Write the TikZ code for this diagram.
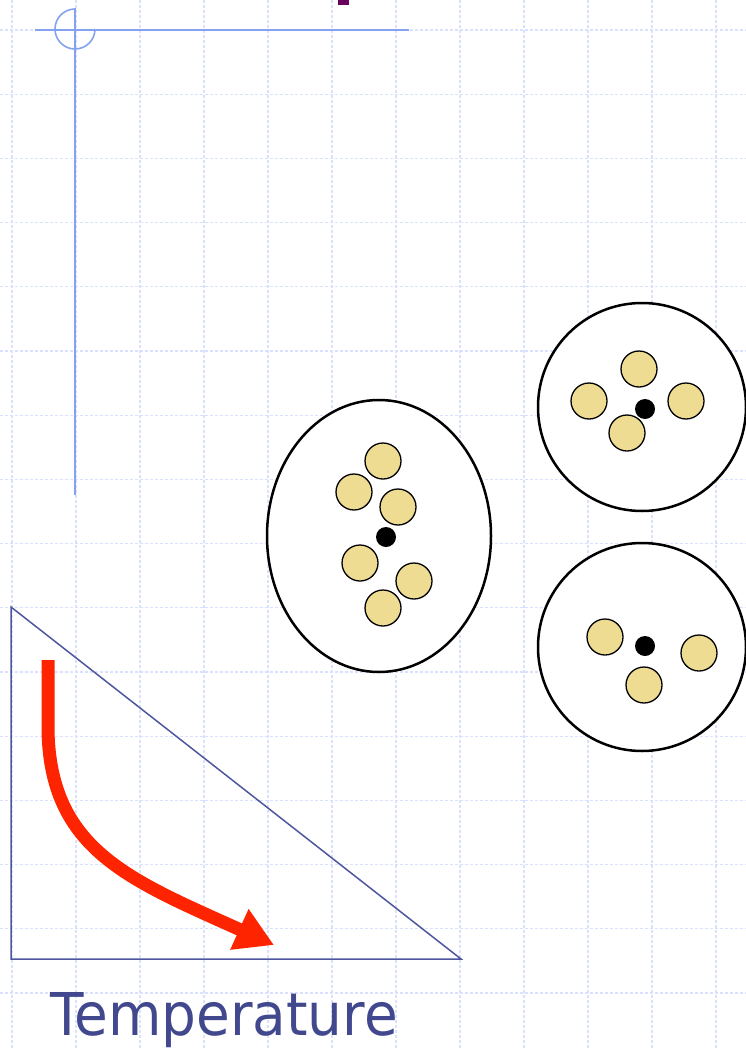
\documentclass[tikz,border=0pt]{standalone}
\usepackage{fontspec}
\setmainfont{DejaVu Sans}
\usetikzlibrary{arrows.meta,shapes.geometric}
\definecolor{gridblue}{RGB}{218,225,255}
\definecolor{markblue}{RGB}{132,162,240}
\definecolor{tri}{RGB}{78,86,158}
\definecolor{label}{RGB}{66,72,142}
\definecolor{flow}{RGB}{255,36,0}
\definecolor{bead}{RGB}{238,220,146}
\definecolor{titlepurple}{RGB}{104,0,92}
\tikzset{
  atom/.style={circle,draw,line width=1.3pt,fill=bead,minimum size=36pt,inner sep=0pt},
  core/.style={circle,fill=black,minimum size=20pt,inner sep=0pt},
  shell/.style={circle,draw,line width=2.5pt,fill=white,minimum size=208pt,inner sep=0pt}
}

\begin{document}
\begin{tikzpicture}[x=1pt,y=-1pt]
  \useasboundingbox (0,0) rectangle (746,1049);
  % background grid
  \foreach \gx in {12,76,...,716}
    \draw[gridblue,line width=1.3pt,dash pattern=on 3pt off 2pt] (\gx,0) -- (\gx,1049);
  \foreach \gy in {30,94.2,...,1000}
    \draw[gridblue,line width=1.3pt,dash pattern=on 3pt off 2pt] (0,\gy) -- (746,\gy);
  \fill[titlepurple] (338,0) rectangle (349,5);
  % corner mark
  \draw[markblue,line width=1.6pt] (35,30) -- (409,30);
  \draw[markblue,line width=1.6pt] (75,8) -- (75,495);
  \draw[markblue,line width=1.6pt] (75,9) arc[start angle=-90,end angle=-360,radius=20];

  % big molecule
  \node[draw,ellipse,line width=2.5pt,fill=white,minimum width=224pt,
    minimum height=272pt,inner sep=0pt] (mol) at (379,536) {};
  \node[atom] (m1) at (383,461) {};
  \node[atom] (m2) at (354,492) {};
  \node[atom] (m3) at (398,507) {};
  \node[core] (mc) at (386,537) {};
  \node[atom] (m4) at (360,563) {};
  \node[atom] (m5) at (414,581) {};
  \node[atom] (m6) at (383,608) {};

  % upper small molecule
  \node[shell] (upper) at (642,407) {};
  \node[atom] (u1) at (639,369) {};
  \node[atom] (u2) at (589,401) {};
  \node[atom] (u3) at (686,401) {};
  \node[atom] (u4) at (627,433) {};
  \node[core] (uc) at (645,409) {};

  % lower small molecule
  \node[shell] (lower) at (642,647) {};
  \node[atom] (l1) at (605,637) {};
  \node[core] (lc) at (645,646) {};
  \node[atom] (l2) at (699,653) {};
  \node[atom] (l3) at (644,685) {};

  % cooling triangle
  \coordinate (top) at (11,607);
  \coordinate (corner) at (11,959);
  \coordinate (right) at (461,959);
  \draw[tri,line width=1.5pt,line join=miter] (top) -- (corner) -- (right) -- cycle;
  \coordinate (hot) at (48,660);
  \coordinate (bend) at (48,730);
  \coordinate (cold) at (274,945);
  \draw[flow,line width=13pt,-{Triangle[length=38pt,width=42pt]}]
    (hot) -- (bend) .. controls (50,850) and (130,880) .. (cold);
  \node[anchor=base west,inner sep=0pt,text=label] (temp) at (50,1035)
    {\fontsize{59}{59}\selectfont\scalebox{0.93}[1]{Temperature}};
\end{tikzpicture}
\end{document}
